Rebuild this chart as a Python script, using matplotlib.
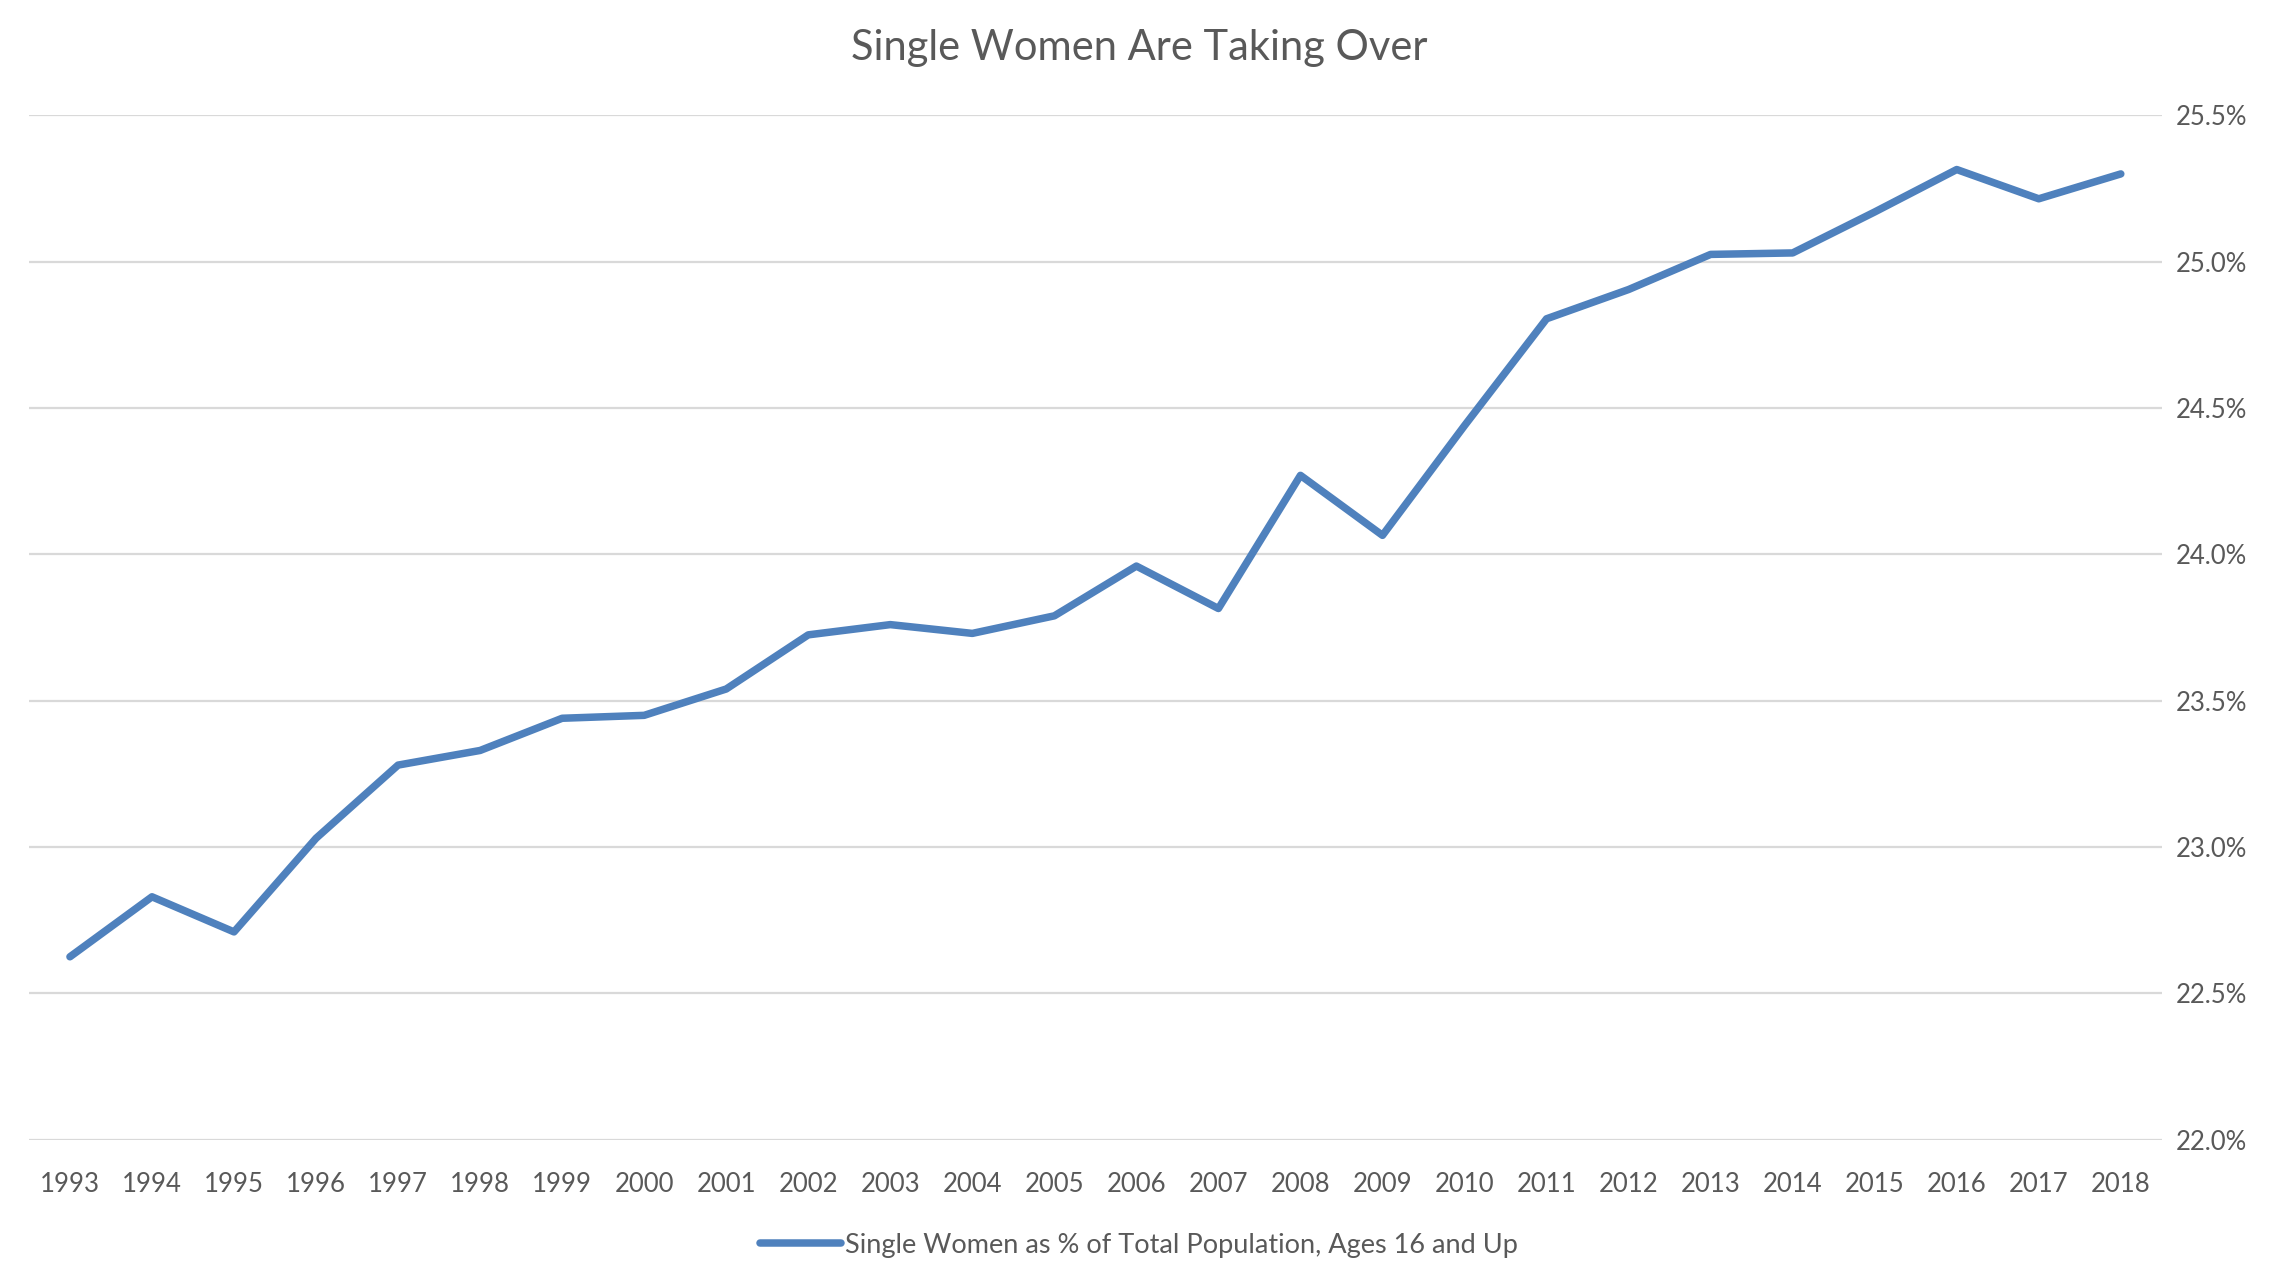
import numpy as np
import matplotlib.pyplot as plt
from matplotlib.ticker import FuncFormatter

plt.rcParams['font.family'] = ['Lato', 'DejaVu Sans']

years = [str(y) for y in range(1993, 2019)]
share = [22.625, 22.83, 22.71, 23.03, 23.28, 23.33, 23.44, 23.45, 23.54, 23.725,
         23.76, 23.73, 23.79, 23.96, 23.815, 24.27, 24.065, 24.44, 24.805, 24.905,
         25.025, 25.03, 25.17, 25.315, 25.215, 25.30]
yticks = [22.0, 22.5, 23.0, 23.5, 24.0, 24.5, 25.0, 25.5]

series_name = 'Single Women as % of Total Population, Ages 16 and Up'
line_color = '#4F81BD'
text_color = '#595959'

fig = plt.figure(figsize=(22.78, 12.82), dpi=100)
ax = fig.add_axes([0.0127, 0.111, 0.9363, 0.799])

x = np.arange(len(years))
ax.plot(x, share, color=line_color, lw=5.4, solid_capstyle='round',
        solid_joinstyle='round', label=series_name, zorder=3)

ax.set_xlim(-0.5, len(years) - 0.5)
ax.set_ylim(22.0, 25.5)
ax.set_xticks(x)
ax.set_xticklabels(years)
ax.set_yticks(yticks)
ax.yaxis.set_major_formatter(FuncFormatter(lambda v, p: f'{v:.1f}%'))
ax.yaxis.tick_right()

ax.grid(axis='y', color='#D9D9D9', lw=1.6, zorder=0)
for s in ax.spines.values():
    s.set_visible(False)
ax.tick_params(axis='both', length=0, labelsize=18.5, colors=text_color)
ax.tick_params(axis='x', pad=23)
ax.tick_params(axis='y', pad=10)

fig.suptitle('Single Women Are Taking Over', y=0.977, fontsize=30, color=text_color)

leg = fig.legend(loc='lower center', bbox_to_anchor=(0.5, 0.0), frameon=False,
                 fontsize=19.5, handlelength=3.0, handletextpad=0.15)
for t in leg.get_texts():
    t.set_color(text_color)

fig.savefig('out.png', dpi=100)
